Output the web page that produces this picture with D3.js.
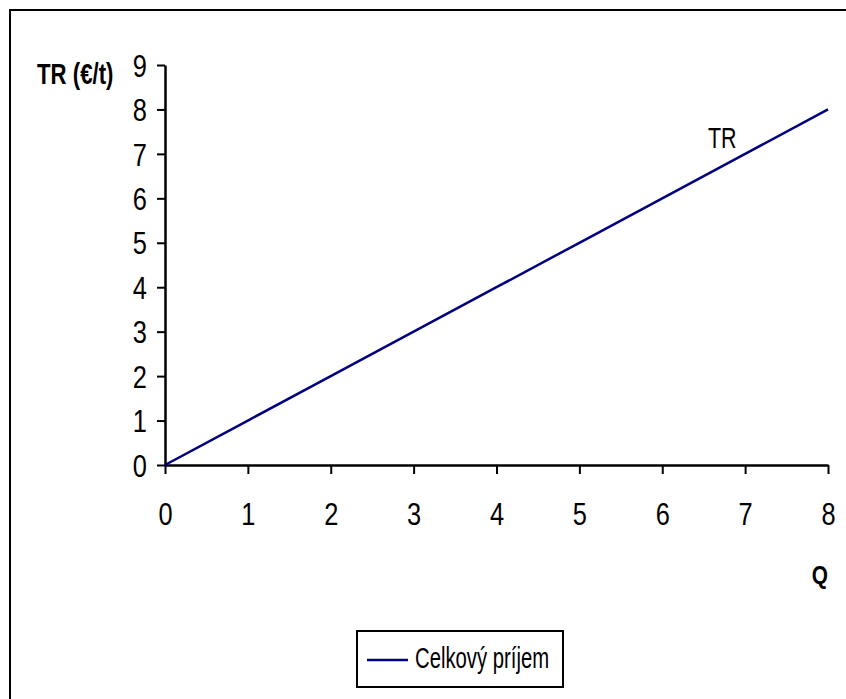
<!DOCTYPE html>
<html>
<head>
<meta charset="utf-8">
<script src="https://cdn.jsdelivr.net/npm/d3@7"></script>
<style>
  body { margin: 0; background: #fff; }
  text { font-family: "Liberation Sans", Arial, sans-serif; fill: #000; }
</style>
</head>
<body>
<svg id="chart" width="846" height="699"></svg>
<script>
const quantities = [0, 1, 2, 3, 4, 5, 6, 7, 8];
const revenue = [0, 1, 2, 3, 4, 5, 6, 7, 8];
const xTicks = [0, 1, 2, 3, 4, 5, 6, 7, 8];
const yTicks = [0, 1, 2, 3, 4, 5, 6, 7, 8, 9];
const seriesName = "Celkový príjem";

const svg = d3.select("#chart");
const narrow = 0.82; // fake Arial Narrow look

// outer frame (runs past the right and bottom edge)
svg.append("rect")
  .attr("x", 10).attr("y", 10)
  .attr("width", 860).attr("height", 720)
  .attr("fill", "none").attr("stroke", "#000").attr("stroke-width", 2);

const x = d3.scaleLinear().domain([0, 8]).range([165, 828]);
const y = d3.scaleLinear().domain([0, 9]).range([465, 65]);

const xAxis = svg.append("g")
  .attr("transform", `translate(0, ${y(0)})`)
  .call(d3.axisBottom(x).tickValues(xTicks).tickSize(9).tickPadding(29).tickSizeOuter(0));

const yAxis = svg.append("g")
  .attr("transform", `translate(${x(0)}, 0)`)
  .call(d3.axisLeft(y).tickValues(yTicks).tickSize(8).tickSizeOuter(0));

[xAxis, yAxis].forEach(a => {
  a.select(".domain").attr("stroke", "#000").attr("stroke-width", 2.5);
  a.selectAll(".tick line").attr("stroke", "#000").attr("stroke-width", 2);
  a.selectAll(".tick text")
    .attr("fill", "#000")
    .attr("transform", `scale(${narrow},1)`)
    .style("font-size", "31px")
    .style("font-family", '"Liberation Sans", Arial, sans-serif');
});
yAxis.selectAll(".tick text").attr("x", -18 / narrow).attr("dy", "0.36em");

const line = d3.line()
  .x((d, i) => x(quantities[i]))
  .y(d => y(d));

svg.append("path")
  .datum(revenue)
  .attr("d", line)
  .attr("fill", "none")
  .attr("stroke", "#000080")
  .attr("stroke-width", 2.5);

function label(px, py, txt, size, sx, bold, anchor) {
  return svg.append("text")
    .attr("transform", `translate(${px},${py}) scale(${sx},1)`)
    .attr("text-anchor", anchor || "start")
    .style("font-size", size + "px")
    .style("font-weight", bold ? "bold" : "normal")
    .text(txt);
}

// axis titles
label(37, 84, "TR (€/t)", 30, 0.74, true);
label(828, 584, "Q", 26, 0.8, true, "end");

// series label
label(708, 148, "TR", 29, 0.74, false);

// legend
const legend = svg.append("g").attr("transform", "translate(357, 631)");
legend.append("rect")
  .attr("width", 206).attr("height", 56)
  .attr("fill", "#fff").attr("stroke", "#000").attr("stroke-width", 2);
legend.append("line")
  .attr("x1", 10).attr("x2", 51).attr("y1", 29).attr("y2", 29)
  .attr("stroke", "#000080").attr("stroke-width", 2.5);
legend.append("text")
  .attr("transform", "translate(58,37) scale(0.7,1)")
  .style("font-size", "29px")
  .text(seriesName);
</script>
</body>
</html>
